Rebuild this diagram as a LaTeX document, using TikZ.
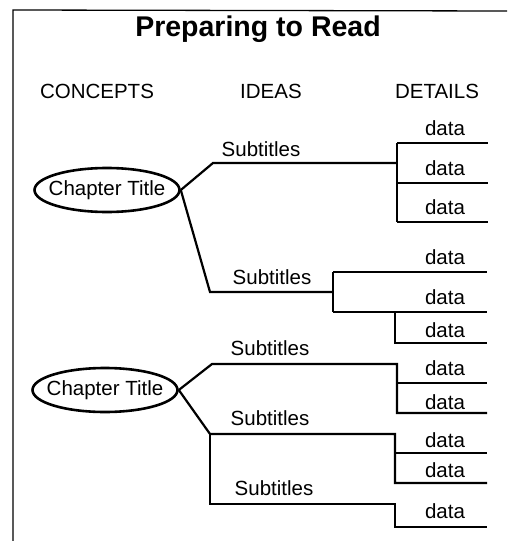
\documentclass[tikz,border=0pt]{standalone}
\usepackage{fontspec}
\setmainfont{Liberation Sans}
\usetikzlibrary{shapes.geometric}

\begin{document}
\begin{tikzpicture}[x=1pt,y=-1pt,line width=2.2pt,
  concept node/.style={ellipse,draw,line width=2.6pt,minimum width=145pt,minimum height=44pt,inner sep=0pt},
  head node/.style={font=\fontsize{20.5}{24}\selectfont},
  idea node/.style={font=\fontsize{20.5}{24}\selectfont},
  data node/.style={font=\fontsize{20.5}{24}\selectfont}]
  \useasboundingbox (0,0) rectangle (507,541);
  \draw[line width=1.3pt] (13,541) -- (13,10) -- (507,11);
  \node[font=\fontsize{28.5}{32}\selectfont\bfseries] (title) at (258,29) {Preparing to Read};
  \node[head node] (h1) at (97,91) {CONCEPTS};
  \node[head node] (h2) at (271,91) {IDEAS};
  \node[head node] (h3) at (437,91) {DETAILS};

  \node[concept node, label=center:{\fontsize{20.5}{24}\selectfont Chapter Title}] (c1) at (107,190) {};
  \node[concept node, label=center:{\fontsize{20.5}{24}\selectfont Chapter Title}] (c2) at (105,390) {};

  \coordinate (a1) at (213,163);  \coordinate (a2) at (397,163);
  \coordinate (b1) at (210,292);  \coordinate (b2) at (333,292);
  \coordinate (e1) at (212,364);  \coordinate (e2) at (397,364);
  \coordinate (f1) at (210,434);  \coordinate (f2) at (395,434);
  \coordinate (g1) at (210,504);  \coordinate (g2) at (395,504);

  \node[idea node] (s1) at (261,149) {Subtitles};
  \node[idea node] (s2) at (272,277) {Subtitles};
  \node[idea node] (s3) at (270,348) {Subtitles};
  \node[idea node] (s4) at (270,418) {Subtitles};
  \node[idea node] (s5) at (274,488) {Subtitles};

  \node[data node] (d1) at (445,128) {data};
  \node[data node] (d2) at (445,168) {data};
  \node[data node] (d3) at (445,207) {data};
  \node[data node] (d4) at (445,257) {data};
  \node[data node] (d5) at (445,297) {data};
  \node[data node] (d6) at (445,330) {data};
  \node[data node] (d7) at (445,368) {data};
  \node[data node] (d8) at (445,402) {data};
  \node[data node] (d9) at (445,440) {data};
  \node[data node] (d10) at (445,470) {data};
  \node[data node] (d11) at (445,511) {data};

  \draw (c1.east) -- (a1) -- (a2);
  \draw (397,143) -- (397,222);
  \draw (397,143) -- (488,143);
  \draw (397,183) -- (488,183);
  \draw (397,222) -- (488,222);

  \draw (c1.east) -- (b1) -- (b2);
  \draw (333,272) -- (333,312);
  \draw (333,272) -- (487,272);
  \draw (333,312) -- (487,312);
  \draw (395,312) -- (395,343) -- (487,343);

  \draw (c2.east) -- (e1) -- (e2) -- (397,413) -- (487,413);
  \draw (397,383) -- (487,383);

  \draw (c2.east) -- (f1) -- (f2) -- (395,483) -- (487,483);
  \draw (395,453) -- (487,453);

  \draw (f1) -- (g1) -- (g2) -- (395,527) -- (487,527);
\end{tikzpicture}
\end{document}
